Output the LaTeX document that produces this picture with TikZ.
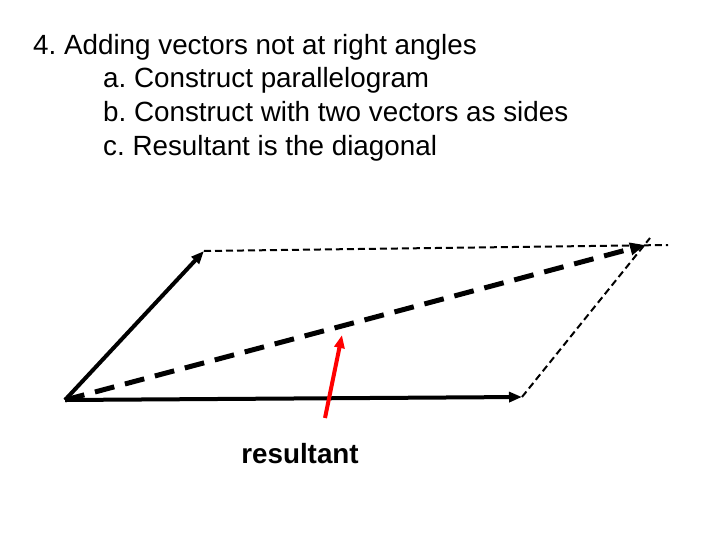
\documentclass[tikz,border=0pt]{standalone}
\usepackage{fontspec}
\setmainfont{Liberation Sans}
\frenchspacing
\usetikzlibrary{arrows.meta}
\begin{document}
\begin{tikzpicture}[x=1pt,y=-1pt,
  txt/.style={anchor=base west,font=\fontsize{27.8}{27.8}\selectfont,inner sep=0pt},
  vec/.style={line width=4pt,-{Triangle[length=13pt,width=10pt]}},
  thin dash/.style={line width=2pt,dash pattern=on 7pt off 4pt},
  diag/.style={line width=5pt,dash pattern=on 20pt off 11pt,-{Triangle[length=15pt,width=12pt]}}]
\useasboundingbox (0,0) rectangle (720,540);
\node[txt] (t1) at (33,55) {4. Adding vectors not at right angles};
\node[txt] (t2) at (103,88) {a. Construct parallelogram};
\node[txt] (t3) at (103,122) {b. Construct with two vectors as sides};
\node[txt] (t4) at (103,156) {c. Resultant is the diagonal};
\coordinate (o) at (65,400);
\coordinate (a) at (204,251);
\coordinate (b) at (522,397);
\coordinate (c) at (645,245);
\coordinate (e) at (668,245);
\draw[thin dash] (a) -- (e);
\draw[thin dash] (b) -- (650,238);
\draw[vec] (o) -- (a);
\draw[vec] (o) -- (b);
\draw[diag] (o) -- (c);
\node[font=\bfseries\fontsize{27.8}{27.8}\selectfont,inner sep=0pt] (r) at (300,454) {resultant};
\coordinate (rs) at (325,418);
\coordinate (re) at (342,335);
\draw[red,line width=4pt,-{Triangle[length=13pt,width=10pt]}] (rs) -- (re);
\end{tikzpicture}
\end{document}
